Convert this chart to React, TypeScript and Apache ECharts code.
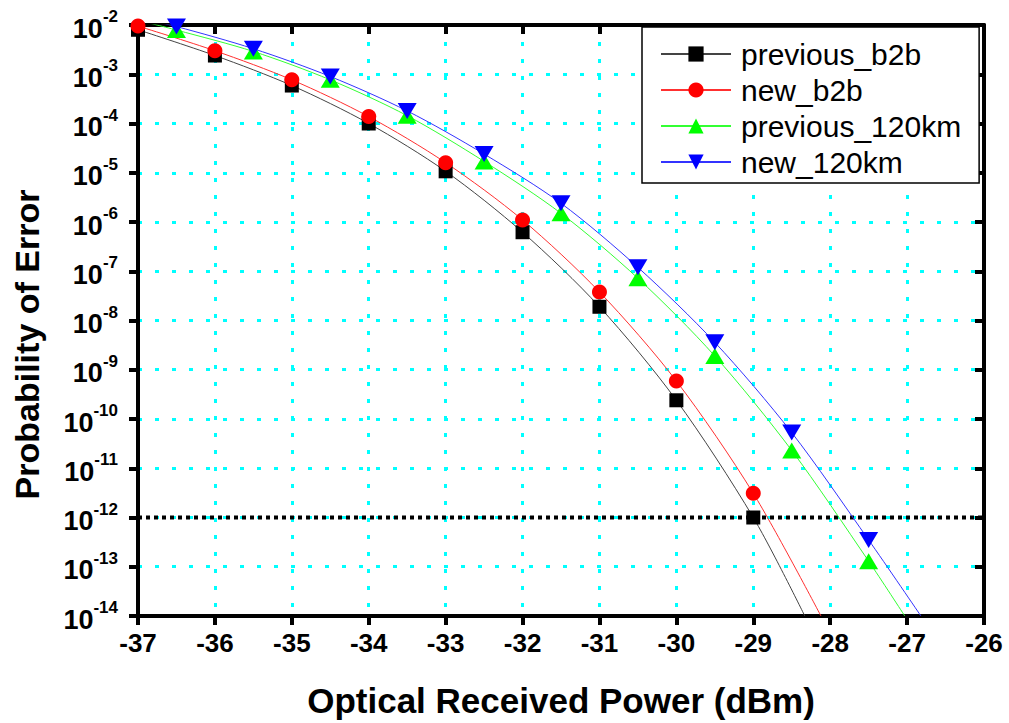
import React, { useEffect, useRef } from "react";
import * as echarts from "echarts";

// ---- data ----
const xB2B = [-37, -36, -35, -34, -33, -32, -31, -30, -29];
const prevB2B = [8.0e-3, 2.4e-3, 5.9e-4, 1.0e-4, 1.07e-5, 6.2e-7, 1.9e-8, 2.4e-10, 1.0e-12];
const newB2B = [9.5e-3, 3.0e-3, 7.7e-4, 1.38e-4, 1.6e-5, 1.1e-6, 3.8e-8, 5.9e-10, 3.1e-12];

const x120 = [-36.5, -35.5, -34.5, -33.5, -32.5, -31.5, -30.5, -29.5, -28.5, -27.5];
const prev120 = [7.9e-3, 2.9e-3, 7.7e-4, 1.44e-4, 1.7e-5, 1.5e-6, 7.2e-8, 1.9e-9, 2.3e-11, 1.3e-13];
const new120 = [9.3e-3, 3.3e-3, 9.0e-4, 1.8e-4, 2.4e-5, 2.4e-6, 1.2e-7, 3.6e-9, 5.3e-11, 3.5e-13];

// fitted-curve ends as seen in the picture (where each curve meets the frame)
const prevB2BFitEnd: [number, number] = [-28.33, 1e-14];
const newB2BFitEnd: [number, number] = [-28.12, 1e-14];
const prev120FitStart: [number, number] = [-37, 1.25e-2];
const prev120FitEnd: [number, number] = [-27.03, 1e-14];
const new120FitStart: [number, number] = [-37, 1.4e-2];
const new120FitEnd: [number, number] = [-26.82, 1e-14];

// BER threshold line
const THRESHOLD = 1e-12;

const X_MIN = -37;
const X_MAX = -26;
const Y_MIN = 1e-14;
const Y_MAX = 1e-2;

const seriesNames = ["previous_b2b", "new_b2b", "previous_120km", "new_120km"];

function buildData(
  xs: number[],
  ys: number[],
  start: [number, number] | null,
  end: [number, number]
) {
  const d: any[] = [];
  if (start) d.push({ value: start, symbol: "none" });
  xs.forEach((x, i) => d.push([x, ys[i]]));
  d.push({ value: end, symbol: "none" });
  return d;
}

const FONT = "Arial, 'Liberation Sans', sans-serif";

export default function App() {
  const ref = useRef<HTMLDivElement>(null);
  useEffect(() => {
    document.body.style.margin = "0";
    if (!ref.current) return;
    const chart = echarts.init(ref.current, null, { renderer: "svg" });

    const mkSeries = (
      name: string,
      data: any[],
      color: string,
      lineColor: string,
      symbol: string,
      size: number | number[],
      rotate = 0
    ) => ({
      type: "line",
      name,
      data,
      smooth: 0.3,
      symbol,
      symbolSize: size,
      symbolRotate: rotate,
      showAllSymbol: true,
      clip: true,
      z: 3,
      itemStyle: { color, borderWidth: 0 },
      lineStyle: { color: lineColor, width: 1 },
      emphasis: { disabled: true },
    });

    const option: any = {
      animation: false,
      backgroundColor: "#fff",
      grid: { left: 138, right: 25, top: 25, bottom: 105, containLabel: false },
      legend: {
        orient: "vertical",
        left: 642,
        top: 27,
        data: seriesNames,
        itemWidth: 70,
        itemHeight: 19,
        itemGap: 6,
        padding: [12, 18, 6, 18],
        backgroundColor: "#fff",
        borderColor: "#000",
        borderWidth: 1.5,
        borderRadius: 0,
        textStyle: { fontSize: 30, color: "#000", fontFamily: FONT, padding: [0, 0, 0, 5] },
      },
      xAxis: [
        {
          type: "value",
          min: X_MIN,
          max: X_MAX,
          interval: 1,
          position: "bottom",
          name: "Optical Received Power (dBm)",
          nameLocation: "middle",
          nameGap: 67,
          nameTextStyle: { fontSize: 35, fontWeight: "bold", color: "#000", fontFamily: FONT },
          axisLine: { show: true, onZero: false, lineStyle: { color: "#000", width: 4 } },
          axisTick: { show: true, inside: false, length: 9, lineStyle: { color: "#000", width: 4 } },
          axisLabel: { margin: 14, fontSize: 26, fontWeight: "bold", color: "#000", fontFamily: FONT },
          splitLine: { show: true, lineStyle: { color: "#00ffff", type: [4, 13], width: 3 } },
        },
        {
          type: "value",
          min: X_MIN,
          max: X_MAX,
          interval: 1,
          position: "top",
          axisLine: { show: true, onZero: false, lineStyle: { color: "#000", width: 4 } },
          axisTick: { show: true, inside: true, length: 9, lineStyle: { color: "#000", width: 4 } },
          axisLabel: { show: false },
          splitLine: { show: false },
        },
      ],
      yAxis: [
        {
          type: "log",
          logBase: 10,
          min: Y_MIN,
          max: Y_MAX,
          interval: 1,
          position: "left",
          name: "Probability of Error",
          nameLocation: "middle",
          nameGap: 94,
          nameTextStyle: {
            fontSize: 34,
            fontWeight: "bold",
            color: "#000",
            fontFamily: FONT,
            padding: [0, 48, 0, 0],
          },
          axisLine: { show: true, onZero: false, lineStyle: { color: "#000", width: 4 } },
          axisTick: { show: true, inside: false, length: 9, lineStyle: { color: "#000", width: 4 } },
          axisLabel: {
            margin: 20,
            formatter: (v: number) => `{b|10}{s|${Math.round(Math.log10(v))}}`,
            rich: {
              b: { fontSize: 27, fontWeight: "bold", color: "#000", fontFamily: FONT, verticalAlign: "bottom", lineHeight: 34 },
              s: { fontSize: 17, fontWeight: "bold", color: "#000", fontFamily: FONT, verticalAlign: "top", lineHeight: 17 },
            },
          },
          splitLine: { show: true, lineStyle: { color: "#00ffff", type: [4, 13], width: 3 } },
          minorTick: { show: false },
        },
        {
          type: "log",
          logBase: 10,
          min: Y_MIN,
          max: Y_MAX,
          interval: 1,
          position: "right",
          axisLine: { show: true, onZero: false, lineStyle: { color: "#000", width: 4 } },
          axisTick: { show: true, inside: true, length: 9, lineStyle: { color: "#000", width: 4 } },
          axisLabel: { show: false },
          splitLine: { show: false },
        },
      ],
      series: [
        {
          type: "line",
          name: "threshold",
          data: [
            [X_MIN, THRESHOLD],
            [X_MAX, THRESHOLD],
          ],
          symbol: "none",
          z: 2,
          silent: true,
          lineStyle: { color: "#000", type: [4, 4], width: 4 },
          emphasis: { disabled: true },
        },
        mkSeries(seriesNames[0], buildData(xB2B, prevB2B, null, prevB2BFitEnd), "#000", "#444", "rect", 14),
        mkSeries(seriesNames[1], buildData(xB2B, newB2B, null, newB2BFitEnd), "#ff0000", "#ff3030", "circle", 15),
        mkSeries(seriesNames[2], buildData(x120, prev120, prev120FitStart, prev120FitEnd), "#00ff00", "#33ff33", "triangle", [19, 16]),
        mkSeries(seriesNames[3], buildData(x120, new120, new120FitStart, new120FitEnd), "#0000ff", "#3333ff", "triangle", [19, 16], 180),
      ],
    };
    chart.setOption(option);
    return () => chart.dispose();
  }, []);
  return <div ref={ref} style={{ width: 1009, height: 723 }} />;
}
